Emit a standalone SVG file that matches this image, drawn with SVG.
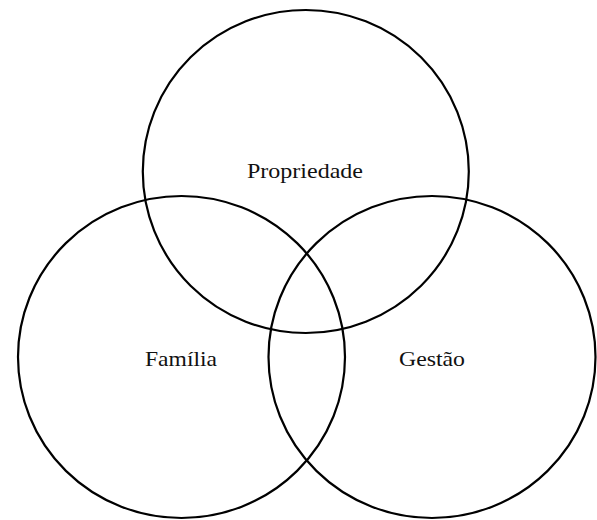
<svg xmlns="http://www.w3.org/2000/svg" width="597" height="520" viewBox="0 0 597 520">
<style>
.c{fill:none;stroke:#000;stroke-width:2.2}
.t{font-family:"Liberation Serif","DejaVu Serif",serif;font-size:21px;fill:#111;text-anchor:middle}
</style>
<rect width="597" height="520" fill="#fff"/>
<g id="propriedade"><ellipse class="c" cx="305.8" cy="171.5" rx="163" ry="161.5"/><text class="t" x="305" y="178" textLength="116" lengthAdjust="spacingAndGlyphs">Propriedade</text></g>
<g id="familia"><ellipse class="c" cx="181.5" cy="357" rx="163.5" ry="161"/><text class="t" x="181" y="366" textLength="72" lengthAdjust="spacingAndGlyphs">Família</text></g>
<g id="gestao"><ellipse class="c" cx="432" cy="357" rx="163.5" ry="161"/><text class="t" x="432" y="366" textLength="66" lengthAdjust="spacingAndGlyphs">Gestão</text></g>
<g id="connectors"/>
</svg>
